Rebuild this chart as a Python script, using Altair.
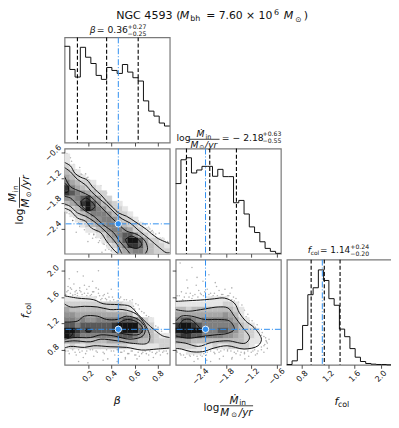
import altair as alt
import numpy as np
import pandas as pd

BETA_DOM = [0.0, 0.9]
MDOT_DOM = [-2.985, -0.5]
FCOL_DOM = [0.57, 2.17]

hist_beta = [291,221,198,288,258,239,203,191,227,218,209,236,213,196,186,126,95,80,59,50]
hist_mdot = [212,284,290,244,253,264,264,234,255,233,233,154,161,120,81,64,36,16,7,1]
hist_fcol = [1,12,46,119,212,233,287,255,200,180,108,85,49,23,10,4,2,1,1,0]

q_beta = [0.11, 0.36, 0.63]
q_mdot = [-2.73, -2.18, -1.55]
q_fcol = [0.94, 1.14, 1.38]
truth_beta, truth_mdot, truth_fcol = 0.46, -2.28, 1.11

grid_beta_mdot = [
 "00000000000000000000","10000000000000000000","10000000000000000000","21000000000000000000",
 "32100000000000000000","43210000000000000000","64322100000000000000","86432210000000000000",
 "87654322000000000000","55678542200000000000","34589753321000000000","12369765322100000000",
 "01234666532210000000","00123456653221000000","00012345665322100000","00001134566542210000",
 "00000012456775321000","00000001345799742210","00000000124688743221","00000000013456643222"]
grid_beta_fcol = [
 "00000000000000000000","00000000000000000000","00000000000000000000","00000000000000000000",
 "00000000000000000000","00000000000000000000","00000000000000000000","11111100000000000000",
 "22222222222110000000","43333333222210000000","55444444444431000000","66565566666776421000",
 "77677777789999632000","99878777789999743100","98766666667776543211","44433333444444333222",
 "12112222222211111122","00000000000000000000","00000000000000000000","00000000000000000000"]
grid_mdot_fcol = [
 "00000000000000000000","00000000000000000000","00000000000000000000","00000000000000000000",
 "00000000000000000000","00000000000000000000","00000000000000000000","00000011110000000000",
 "11111111122100000000","33233333333210000000","44444444454310000000","67765666665421000000",
 "89987666666532100000","99999766776532210000","78877666655432210000","44433333333332110000",
 "22221112112222100000","00111000000000000000","00000000000000000000","00000000000000000000"]

# contour traces: (x list, y list)
cont_beta_mdot = [
 ([0,.05,.09,.14,.19,.25,.31,.36,.42,.46,.53,.62,.70,.79,.90],
  [-.83,-.91,-1.09,-1.18,-1.24,-1.44,-1.59,-1.75,-1.91,-2.02,-2.10,-2.26,-2.41,-2.61,-2.75]),
 ([0,.05,.11,.18,.23,.29,.36,.43,.49,.56,.64,.73,.81,.87,.90],
  [-.95,-1.05,-1.23,-1.36,-1.52,-1.67,-1.83,-2.02,-2.16,-2.26,-2.45,-2.65,-2.84,-2.96,-2.96]),
 ([0,.05,.11,.18,.23,.31,.36,.43,.46],
  [-1.91,-1.97,-2.14,-2.22,-2.38,-2.49,-2.69,-2.92,-2.985]),
 ([0,.05,.11,.18,.25,.32,.39,.45,.49],
  [-1.81,-1.87,-2.02,-2.10,-2.22,-2.38,-2.57,-2.77,-2.985]),
 ([0,.05,.14,.22,.28,.36,.45,.53,.62,.69,.71,.69],
  [-1.16,-1.40,-1.52,-1.63,-1.79,-2.02,-2.26,-2.45,-2.53,-2.69,-2.88,-2.985]),
 ([0,.05,.11,.18,.25,.33,.42,.47,.53,.56],
  [-1.63,-1.67,-1.83,-1.98,-2.10,-2.30,-2.49,-2.69,-2.88,-2.985]),
 ([.14,.18,.22,.26,.22,.16,.14],[-1.75,-1.67,-1.73,-1.87,-1.96,-1.90,-1.75]),
 ([.52,.57,.63,.66,.62,.55,.52],[-2.65,-2.57,-2.65,-2.77,-2.86,-2.80,-2.65]),
 ([0,.03,.03,0],[-1.32,-1.40,-1.52,-1.55]),
]
cont_beta_fcol = [
 ([0,.11,.25,.33,.46,.56,.63,.70,.77,.84,.90],[1.62,1.585,1.56,1.5,1.485,1.46,1.335,1.21,1.10,1.01,.985]),
 ([.90,.79,.66,.53,.39,.25,.17,.05,0],[.825,.81,.795,.835,.845,.86,.835,.85,.825]),
 ([0,.05,.17,.28,.39,.50,.62,.71,.73,.71,.59,.45,.31,.22,.08,0],
  [1.495,1.45,1.46,1.45,1.41,1.41,1.335,1.11,.985,.90,.895,.935,.96,.92,.935,.92]),
 ([0,.11,.17,.28,.36,.45,.53,.63,.69,.67,.56,.42,.31,.22,.08,0],
  [1.22,1.235,1.31,1.31,1.26,1.26,1.31,1.26,1.135,1.01,.96,1.01,1.025,.985,.985,.96]),
 ([.43,.47,.54,.63,.67,.64,.53,.43,.43],[1.12,1.21,1.26,1.21,1.11,1.035,1.035,1.085,1.12]),
 ([0,.05,.07,.045,0],[1.12,1.11,1.05,.995,.985]),
 ([.18,.21,.23,.21,.18,.18],[1.10,1.11,1.085,1.07,1.085,1.10]),
]
cont_mdot_fcol = [
 ([-2.985,-2.69,-2.30,-2.07,-1.83,-1.60,-1.48,-1.33,-1.13,-.96,-1.04,-1.37,-1.77,-2.08,-2.35,-2.62,-2.85,-2.985],
  [1.535,1.545,1.56,1.575,1.585,1.51,1.36,1.235,1.135,.96,.86,.81,.86,.825,.77,.77,.81,.82]),
 ([-2.985,-2.69,-2.30,-1.98,-1.75,-1.60,-1.40,-1.24,-1.34,-1.75,-2.14,-2.45,-2.76,-2.985],
  [1.41,1.385,1.42,1.45,1.435,1.31,1.135,.985,.90,.935,.91,.85,.90,.92]),
 ([-2.985,-2.85,-2.61,-2.30,-1.98,-1.71,-1.60,-1.75,-2.06,-2.38,-2.69,-2.985],
  [1.235,1.31,1.31,1.26,1.26,1.235,1.11,1.05,1.025,1.0,.975,1.01]),
 ([-2.91,-2.81,-2.65,-2.49,-2.41,-2.61,-2.81,-2.91],[1.16,1.25,1.26,1.185,1.10,1.06,1.06,1.16]),
]

# stray samples outside the contours
pts_bm_x = [.02,.04,.01,.03,.06,.08,.05,.10,.12,.13,.15,.17,.19,.21,.23,.26,.28,.30,.31,.34,.36,.38,.41,.44,.47,.50,.55,.58,.61,.65,.69,.73,.76,.81,.85,
            .07,.11,.16,.20,.25,.29,.33,.37,.42,.47,.52,.60,.66,.72,.78,.84,.88,.03,.09,.14,.18,.24,.27,.32,.39,.45,.56,.63,.75,
            .02,.05,.08,.12,.15,.18,.22,.25,.27,.30,.33,.36,.38,.40,.10,.20,.32,.24,.07,.13,.17,.21,.29,.35,.44,
            .0,.02,.04,.06,.08,.1,.12,.14,.16,.18,.2,.22,.24,.26,.28,.3,.32,.34,.36,.38,.4,.43,.46,.49,.52,.55,.58,.62,.66,.7,.74,.78,.82,.86,.89,
            .01,.04,.07,.1,.13,.16,.19,.22,.25,.28,.31,.34,.37,.4,.43]
pts_bm_y = [-.62,-.70,-.74,-.68,-.80,-.88,-.72,-1.0,-1.05,-.95,-1.12,-1.15,-1.20,-1.25,-1.32,-1.35,-1.48,-1.52,-1.38,-1.62,-1.55,-1.72,-1.80,-1.88,-1.92,-2.0,-2.05,-2.12,-2.2,-2.25,-2.3,-2.4,-2.48,-2.5,-2.65,
            -.95,-1.12,-1.2,-1.18,-1.36,-1.42,-1.58,-1.66,-1.84,-1.98,-2.06,-2.16,-2.28,-2.36,-2.52,-2.62,-2.7,-.78,-1.02,-1.1,-1.1,-1.28,-1.44,-1.56,-1.7,-1.95,-2.1,-2.21,-2.44,
            -2.02,-2.10,-2.12,-2.25,-2.30,-2.35,-2.45,-2.52,-2.60,-2.68,-2.75,-2.80,-2.88,-2.92,-2.48,-2.70,-2.95,-2.62,-2.2,-2.34,-2.42,-2.52,-2.72,-2.9,-2.96,
            -.76,-.84,-.86,-.95,-1.04,-1.08,-1.14,-1.12,-1.18,-1.22,-1.24,-1.34,-1.36,-1.40,-1.5,-1.54,-1.6,-1.66,-1.7,-1.72,-1.78,-1.9,-1.96,-2.02,-2.04,-2.1,-2.2,-2.22,-2.34,-2.38,-2.46,-2.58,-2.62,-2.7,-2.72,
            -1.98,-2.04,-2.2,-2.22,-2.28,-2.3,-2.4,-2.42,-2.54,-2.58,-2.62,-2.76,-2.82,-2.9,-2.96]
pts_bf_x = [.02,.03,.05,.06,.08,.09,.10,.11,.13,.14,.15,.17,.19,.20,.22,.24,.26,.27,.29,.30,.32,.34,.36,.38,.40,.42,.45,.48,.50,.53,.55,.58,.60,.63,.66,.70,.74,.78,.11,.29,.04,.16,.24,
            .01,.04,.07,.10,.13,.16,.19,.22,.25,.28,.31,.34,.37,.40,.43,.46,.49,.52,.55,.58,.61,.64,.67,.70,.73,.76,.79,.82,.85,.88,.12,.33,.52,.72,.2,.45,.62,
            .01,.03,.05,.07,.09,.11,.13,.15,.17,.19,.21,.23,.25,.27,.29,.31,.33,.35,.37,.39,.41,.43,.47,.49,.51,.54,.56,.59,.61,.64,.68,.72,.76,.8,.83,.86,
            .0,.03,.06,.09,.12,.15,.18,.21,.24,.27,.30,.33,.36,.39,.42,.45,.48,.51,.54,.57,.60,.63,.66,.69,.72,.75,.78,.81,.84,.87]
pts_bf_y = [1.68,1.76,1.66,1.72,1.80,1.64,1.70,1.66,1.74,1.68,1.64,1.78,1.72,1.66,1.62,1.68,1.60,1.74,1.66,1.62,1.58,1.64,1.56,1.60,1.72,1.56,1.54,1.60,1.52,1.56,1.50,1.56,1.42,1.48,1.38,1.32,1.28,1.16,1.985,2.0,1.88,1.92,1.84,
            .78,.74,.80,.72,.76,.68,.78,.80,.70,.76,.82,.74,.66,.78,.72,.80,.76,.68,.74,.78,.72,.70,.76,.74,.78,.68,.76,.72,.78,.74,.62,.64,.66,.64,.60,.62,.66,
            1.64,1.70,1.74,1.63,1.68,1.62,1.70,1.60,1.66,1.62,1.76,1.64,1.68,1.6,1.72,1.56,1.62,1.58,1.66,1.54,1.60,1.52,1.58,1.50,1.56,1.48,1.54,1.46,1.50,1.42,1.36,1.30,1.22,1.14,1.08,1.04,
            .80,.78,.82,.76,.80,.78,.74,.82,.80,.78,.84,.76,.80,.82,.78,.80,.76,.78,.74,.78,.72,.76,.74,.78,.72,.76,.74,.78,.76,.78]
pts_mf_x = [-2.95,-2.85,-2.78,-2.70,-2.64,-2.58,-2.50,-2.44,-2.38,-2.30,-2.24,-2.16,-2.10,-2.02,-1.96,-1.90,-1.82,-1.76,-1.70,-1.62,-1.56,-1.50,-1.42,-1.36,-1.28,-1.18,-1.06,-.94,-.86,-2.6,-2.48,-2.34,-2.2,-2.72,-2.05,-1.66,-2.88,
            -2.95,-2.86,-2.76,-2.66,-2.56,-2.46,-2.36,-2.26,-2.16,-2.06,-1.96,-1.86,-1.76,-1.66,-1.56,-1.46,-1.36,-1.26,-1.16,-1.06,-.96,-.88,-.82,-.78,-.9,-2.55,-2.25,-1.95,-1.65,-1.35,-1.1,-.84,
            -2.98,-2.9,-2.82,-2.74,-2.67,-2.6,-2.53,-2.46,-2.4,-2.33,-2.27,-2.2,-2.13,-2.07,-2,-1.93,-1.87,-1.8,-1.73,-1.66,-1.6,-1.53,-1.46,-1.4,-1.32,-1.25,-1.15,-1.1,-1.02,-.96,-.9,-.85,-.82,
            -2.96,-2.88,-2.8,-2.72,-2.64,-2.56,-2.48,-2.4,-2.32,-2.24,-2.16,-2.08,-2,-1.92,-1.84,-1.76,-1.68,-1.6,-1.52,-1.44,-1.36,-1.28,-1.2,-1.12,-1.04,-.96,-.9]
pts_mf_y = [1.62,1.68,1.60,1.74,1.66,1.62,1.78,1.70,1.64,1.68,1.72,1.66,1.62,1.76,1.70,1.64,1.72,1.62,1.66,1.60,1.58,1.52,1.48,1.40,1.34,1.24,1.18,1.06,.98,2.05,1.9,1.84,1.94,1.86,1.82,1.74,2.12,
            .76,.72,.68,.72,.74,.66,.70,.72,.62,.74,.76,.70,.78,.66,.74,.72,.76,.70,.78,.74,.84,.88,.82,.96,.76,.62,.64,.66,.68,.66,.72,.92,
            1.58,1.62,1.56,1.66,1.60,1.58,1.64,1.60,1.66,1.62,1.60,1.64,1.60,1.66,1.62,1.60,1.64,1.60,1.62,1.56,1.54,1.46,1.42,1.36,1.3,1.24,1.16,1.14,1.08,1.02,1.0,.94,.9,
            .78,.74,.72,.74,.7,.72,.7,.72,.74,.76,.78,.76,.8,.78,.8,.8,.78,.76,.78,.76,.74,.78,.76,.8,.78,.8,.86]

TICK_BETA = [0.2, 0.4, 0.6, 0.8]
TICK_MDOT = [-2.4, -1.8, -1.2, -0.6]
TICK_FCOL = [0.8, 1.2, 1.6, 2.0]

SIZE = 106
BLUE = "#2f8ff0"
MATH_MINUS = "datum.value < 0 ? '\u2212' + format(abs(datum.value), '.1f') : format(datum.value, '.1f')"


def axis(ticks, labels, orient, show_ticks=True):
    return alt.Axis(values=ticks, labels=labels, title=None, grid=False, domain=False,
                    ticks=show_ticks, tickSize=3.5, tickWidth=0.8, tickColor="#222", orient=orient,
                    labelAngle=-45, labelAlign="center", labelBaseline="middle",
                    labelPadding=8, labelFontSize=8, labelFont="DejaVu Sans", labelColor="#111",
                    labelExpr=MATH_MINUS, labelOverlap=False)


def vrule(v, xs, xax, color, dash, width):
    return alt.Chart(pd.DataFrame({"v": [v]})).mark_rule(color=color, strokeDash=dash, strokeWidth=width).encode(
        x=alt.X("v:Q", scale=xs, axis=xax))


def hist(values, dom, q, truth, ticks, labels):
    edges = np.linspace(dom[0], dom[1], len(values) + 1)
    df = pd.DataFrame({"x": edges, "y": list(values) + [values[-1]]})
    xs = alt.Scale(domain=dom, nice=False, zero=False)
    xax = axis(ticks, labels, "bottom")
    line = alt.Chart(df).mark_line(interpolate="step-after", color="#111", strokeWidth=1).encode(
        x=alt.X("x:Q", scale=xs, axis=xax),
        y=alt.Y("y:Q", scale=alt.Scale(domain=[0, 318], nice=False), axis=None))
    layers = [line, vrule(truth, xs, xax, BLUE, [6, 2, 1, 2], 1)]
    layers += [vrule(v, xs, xax, "#000", [4, 2.2], 1.1) for v in q]
    return alt.layer(*layers).properties(width=SIZE, height=SIZE)


def panel(grid, contours, px, py, xdom, ydom, xticks, yticks, xlabels, ylabels, tx, ty):
    xs = alt.Scale(domain=xdom, nice=False, zero=False)
    ys = alt.Scale(domain=ydom, nice=False, zero=False)
    xax = axis(xticks, xlabels, "bottom")
    yax = axis(yticks, ylabels, "left")
    xe = np.linspace(xdom[0], xdom[1], 21)
    ye = np.linspace(ydom[1], ydom[0], 21)
    rows = []
    for r, row in enumerate(grid):
        for c, ch in enumerate(row):
            if ch != "0":
                rows.append({"x": xe[c], "x2": xe[c + 1], "y": ye[r], "y2": ye[r + 1], "d": int(ch)})
    col = alt.Scale(domain=[1, 6, 9], range=["#e6e6e6", "#808080", "#141414"])
    dots = alt.Chart(pd.DataFrame({"x": px, "y": py})).mark_circle(size=2.5, color="#000", opacity=0.3, clip=True).encode(
        x=alt.X("x:Q", scale=xs, axis=xax), y=alt.Y("y:Q", scale=ys, axis=yax))
    heat = alt.Chart(pd.DataFrame(rows)).mark_rect(strokeWidth=0.4).encode(
        x=alt.X("x:Q", scale=xs, axis=xax),
        x2="x2:Q",
        y=alt.Y("y:Q", scale=ys, axis=yax),
        y2="y2:Q",
        color=alt.Color("d:Q", scale=col, legend=None),
        stroke=alt.Stroke("d:Q", scale=col, legend=None))
    cr = []
    for k, (cx, cy) in enumerate(contours):
        for i, (a, b) in enumerate(zip(cx, cy)):
            cr.append({"x": a, "y": b, "k": k, "i": i})
    lines = alt.Chart(pd.DataFrame(cr)).mark_line(color="#111", strokeWidth=1, interpolate="catmull-rom", clip=True).encode(
        x=alt.X("x:Q", scale=xs, axis=xax), y=alt.Y("y:Q", scale=ys, axis=yax),
        detail="k:N", order="i:Q")
    vline = vrule(tx, xs, xax, BLUE, [6, 2, 1, 2], 1)
    hline = alt.Chart(pd.DataFrame({"v": [ty]})).mark_rule(color=BLUE, strokeDash=[6, 2, 1, 2], strokeWidth=1).encode(
        y=alt.Y("v:Q", scale=ys, axis=yax))
    pt = alt.Chart(pd.DataFrame({"x": [tx], "y": [ty]})).mark_point(
        filled=True, size=42, color=BLUE, stroke="white", strokeWidth=0.9, opacity=1, fillOpacity=1).encode(
        x=alt.X("x:Q", scale=xs, axis=xax), y=alt.Y("y:Q", scale=ys, axis=yax))
    return alt.layer(dots, heat, lines, vline, hline, pt).properties(width=SIZE, height=SIZE)


# ---- annotation text in page pixels, drawn in the first panel's frame
OX, OY = 64, 35
R, I = "normal", "italic"
texts = [
 ("NGC 4593 (", 116, 16.8, 11.2, R, 0), ("M", 180, 16.8, 11.2, I, 0), ("bh", 190.7, 18.6, 8, R, 0),
 ("= 7.60 \u00d7 10", 206.7, 16.8, 10.9, R, 0), ("6", 275, 12.5, 8, R, 0), ("M", 285, 16.8, 11.2, I, 0),
 ("\u2299", 296.5, 19, 7.5, R, 0), (")", 305, 16.8, 11.2, R, 0),
 # beta title
 ("\u03b2", 89.3, 31, 9.3, I, 0), ("= 0.36", 96.5, 31, 9.3, R, 0),
 ("+0.27", 127.5, 26.6, 6.2, R, 0), ("\u22120.25", 127.5, 33.5, 6.2, R, 0),
 # mdot title
 ("log", 176.8, 139, 9.3, R, 0), ("\u1e40", 197, 135.5, 9.3, I, 0), ("in", 206, 137, 6.5, R, 0),
 ("M", 191, 146, 9.3, I, 0), ("\u2299", 199.8, 147.5, 6, R, 0), ("/yr", 205.6, 146, 9.3, I, 0),
 ("= \u2212 2.18", 222.5, 139, 9.3, R, 0), ("+0.63", 263.5, 134.6, 6.2, R, 0), ("\u22120.55", 263.5, 141.5, 6.2, R, 0),
 # fcol title
 ("f", 309, 252.7, 9.3, I, 0), ("col", 312, 254.5, 6, R, 0), ("= 1.14", 321.5, 252.7, 9, R, 0),
 ("+0.24", 352, 248.3, 6.2, R, 0), ("\u22120.20", 352, 255.2, 6.2, R, 0),
 # x labels
 ("\u03b2", 113.5, 404, 11, I, 0),
 ("log", 204, 411.5, 10.5, R, 0), ("\u1e40", 230.3, 404, 10.5, I, 0), ("in", 240, 406, 7.5, R, 0),
 ("M", 221, 417, 10.5, I, 0), ("\u2299", 232, 418, 7, R, 0), ("/yr", 239.5, 417, 10.5, I, 0),
 ("f", 336, 406, 11, I, 0), ("col", 339.5, 408, 8, R, 0),
 # y labels
 ("log", 22, 223.5, 10.5, R, 270), ("\u1e40", 15.5, 201, 10.5, I, 270), ("in", 17.5, 191, 7.5, R, 270),
 ("M", 28.5, 206.5, 10.5, I, 270), ("\u2299", 30, 196, 7, R, 270), ("/yr", 28.5, 188, 10.5, I, 270),
 ("f", 28.5, 318, 11, I, 270), ("col", 30.5, 314, 8, R, 270),
]
bars = [(190.3, 220.2, 137.7), (220.8, 254, 406.3)]
vbars = [(18.6, 176, 206.7)]
dummy = alt.Data(values=[{"a": 1}])
notes = []
for t, x, y, s, st, ang in texts:
    m = alt.Chart(dummy).mark_text(text=t, font="DejaVu Sans", fontSize=s, fontStyle=st, align="left",
                                   baseline="alphabetic", angle=ang, color="#111")
    notes.append(m.encode(x=alt.value(x - OX), y=alt.value(y - OY)))
for x1, x2, y in bars:
    notes.append(alt.Chart(dummy).mark_rule(color="#111", strokeWidth=0.8).encode(
        x=alt.value(x1 - OX), x2=alt.value(x2 - OX), y=alt.value(y - OY)))
for x, y1, y2 in vbars:
    notes.append(alt.Chart(dummy).mark_rule(color="#111", strokeWidth=0.8).encode(
        x=alt.value(x - OX), y=alt.value(y1 - OY), y2=alt.value(y2 - OY)))

h1 = hist(hist_beta, BETA_DOM, q_beta, truth_beta, TICK_BETA, False)
h1 = alt.layer(h1, *notes).properties(width=SIZE, height=SIZE)
h2 = hist(hist_mdot, MDOT_DOM, q_mdot, truth_mdot, TICK_MDOT, False)
h3 = hist(hist_fcol, FCOL_DOM, q_fcol, truth_fcol, TICK_FCOL, True)
a = panel(grid_beta_mdot, cont_beta_mdot, pts_bm_x, pts_bm_y, BETA_DOM, MDOT_DOM, TICK_BETA, TICK_MDOT, False, True, truth_beta, truth_mdot)
b = panel(grid_beta_fcol, cont_beta_fcol, pts_bf_x, pts_bf_y, BETA_DOM, FCOL_DOM, TICK_BETA, TICK_FCOL, True, True, truth_beta, truth_fcol)
c = panel(grid_mdot_fcol, cont_mdot_fcol, pts_mf_x, pts_mf_y, MDOT_DOM, FCOL_DOM, TICK_MDOT, TICK_FCOL, True, False, truth_mdot, truth_fcol)


def blank():
    return alt.Chart(dummy).mark_text(text="").encode(x=alt.value(0), y=alt.value(0)).properties(
        width=SIZE, height=SIZE, view=alt.ViewConfig(stroke=None))


chart = alt.concat(h1, blank(), blank(), a, h2, blank(), b, c, h3, columns=3, spacing=6, bounds="flush").properties(
    padding={"left": -1, "top": -2, "right": -4, "bottom": -3}, background="white"
).configure_view(stroke="#7a7a7a", strokeWidth=1.2)
chart.save("out.html", embed_options={"renderer": "svg", "actions": False})
